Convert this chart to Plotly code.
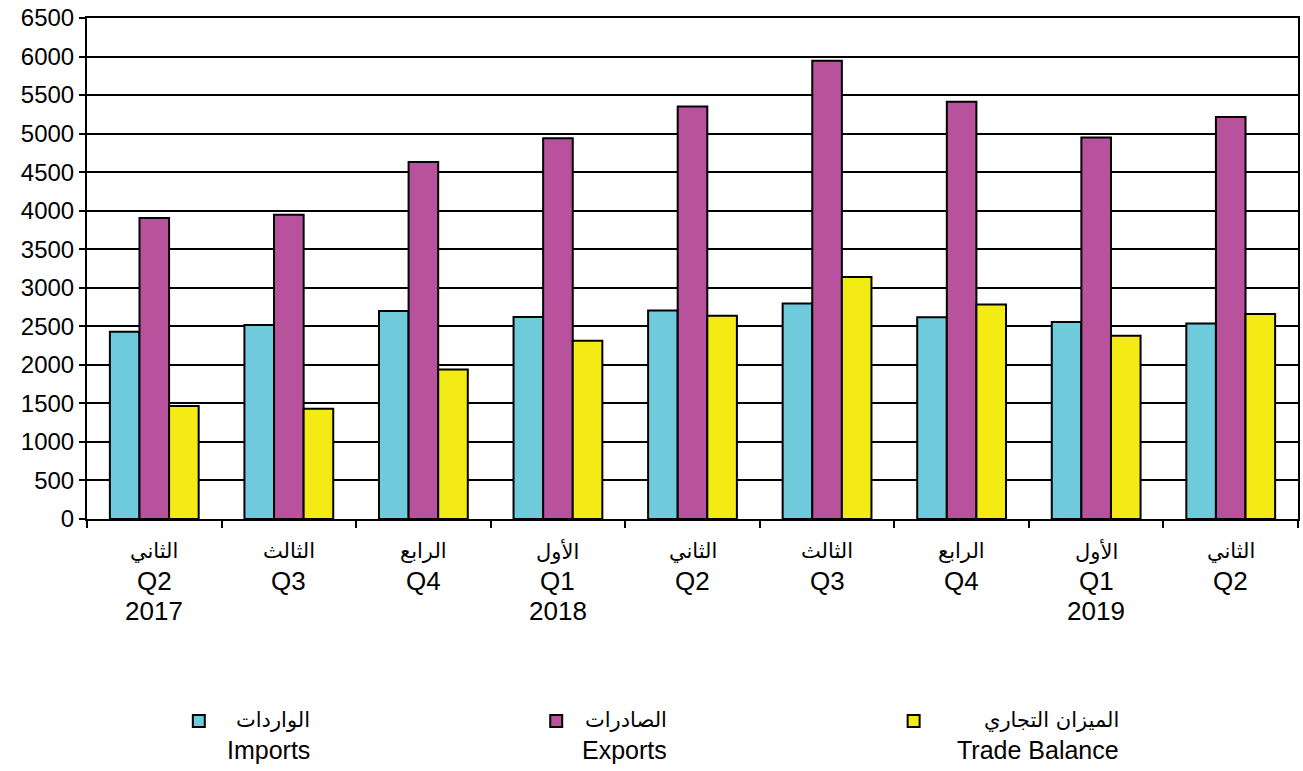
import plotly.graph_objects as go

# ---- data ----
categories = ["2017-Q2", "2017-Q3", "2017-Q4", "2018-Q1", "2018-Q2",
              "2018-Q3", "2018-Q4", "2019-Q1", "2019-Q2"]
arabic_quarters = ["الثاني", "الثالث", "الرابع", "الأول", "الثاني",
                   "الثالث", "الرابع", "الأول", "الثاني"]
quarter_labels = ["Q2", "Q3", "Q4", "Q1", "Q2", "Q3", "Q4", "Q1", "Q2"]
year_labels = ["2017", "", "", "2018", "", "", "", "2019", ""]

imports = [2428, 2518, 2697, 2620, 2705, 2797, 2618, 2555, 2538]
exports = [3905, 3948, 4632, 4940, 5352, 5944, 5413, 4948, 5216]
trade_balance = [1467, 1432, 1938, 2312, 2636, 3140, 2783, 2376, 2660]

series_names_ar = ["الواردات", "الصادرات", "الميزان التجاري"]
series_names_en = ["Imports", "Exports", "Trade Balance"]
colors = ["#6FCBDC", "#B8529C", "#F5EB14"]

FONT = "Liberation Sans, Arial, DejaVu Sans, sans-serif"
FONT_AR = "DejaVu Sans, Liberation Sans, sans-serif"

fig = go.Figure()
for vals, name, col in zip([imports, exports, trade_balance], series_names_en, colors):
    fig.add_trace(go.Bar(
        x=categories, y=vals, name=name,
        marker=dict(color=col, line=dict(color="black", width=2)),
        showlegend=False,
    ))

PL, PR, PT, PB = 87, 1300, 18, 519
W = PR - PL
H = PB - PT


def px_to_paper_x(px):
    return (px - PL) / W


def px_to_paper_y(py):
    return (PB - py) / H


annotations = []
# multi-line category labels
rows = [(arabic_quarters, -32, FONT_AR, 21), (quarter_labels, -62, FONT, 26),
        (year_labels, -92, FONT, 26)]
for labels, shift, fam, size in rows:
    for c, t in zip(categories, labels):
        if not t:
            continue
        annotations.append(dict(
            x=c, xref="x", y=0, yref="paper", yshift=shift,
            text=t, showarrow=False, xanchor="center", yanchor="middle",
            font=dict(family=fam, size=size, color="black"),
        ))

# custom legend (symbol left, Arabic name, English name below, right-aligned)
legend_sq_x = [199, 557, 915]
legend_text_right = [312, 670, 1123]
shapes = []
for i in range(3):
    sx = legend_sq_x[i]
    shapes.append(dict(
        type="rect", xref="paper", yref="paper",
        x0=px_to_paper_x(sx - 6), x1=px_to_paper_x(sx + 6),
        y0=px_to_paper_y(727), y1=px_to_paper_y(715),
        fillcolor=colors[i], line=dict(color="black", width=2),
    ))
    annotations.append(dict(
        x=px_to_paper_x(legend_text_right[i]), xref="paper",
        y=px_to_paper_y(720), yref="paper",
        text=series_names_ar[i], showarrow=False,
        xanchor="right", yanchor="middle",
        font=dict(family=FONT_AR, size=21, color="black"),
    ))
    annotations.append(dict(
        x=px_to_paper_x(legend_text_right[i]), xref="paper",
        y=px_to_paper_y(750), yref="paper",
        text=series_names_en[i], showarrow=False,
        xanchor="right", yanchor="middle",
        font=dict(family=FONT, size=25, color="black"),
    ))

fig.update_layout(
    width=1303, height=771,
    margin=dict(l=PL, r=1303 - PR, t=PT, b=771 - PB, pad=0),
    paper_bgcolor="white", plot_bgcolor="white",
    barmode="group", bargap=0.34, bargroupgap=0,
    font=dict(family=FONT, size=24, color="black"),
    annotations=annotations, shapes=shapes,
    xaxis=dict(
        type="category", showticklabels=False,
        ticks="outside", tickson="boundaries", ticklen=7, tickwidth=2,
        tickcolor="black", showline=True, linecolor="black", linewidth=2,
        mirror=True, showgrid=False,
    ),
    yaxis=dict(
        range=[0, 6500], dtick=500, tick0=0,
        ticks="outside", ticklen=6, tickwidth=2, tickcolor="black",
        showline=True, linecolor="black", linewidth=2, mirror=True,
        showgrid=True, gridcolor="black", gridwidth=1.5,
        tickfont=dict(family=FONT, size=24, color="black"),
        zeroline=False,
    ),
)

fig.write_html("out.html", config={"displayModeBar": False},
               post_script="document.body.style.margin='0px';")
